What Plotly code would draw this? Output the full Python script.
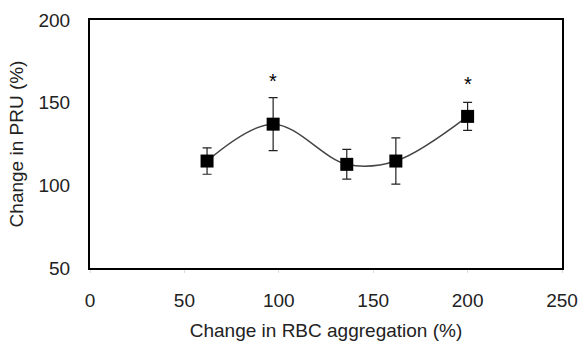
import plotly.graph_objects as go

x_vals = [62, 97, 136, 162, 200]
y_vals = [114.7, 137, 112.7, 114.7, 141.7]
err_vals = [8, 16, 9, 14, 8.5]
star_x = [97, 200]
star_y = [163, 161]
x_ticks = [0, 50, 100, 150, 200, 250]
y_ticks = [50, 100, 150, 200]

fig = go.Figure()
fig.add_trace(go.Scatter(
    x=x_vals, y=y_vals,
    mode="lines",
    line=dict(shape="spline", smoothing=1.0, color="#444444", width=1.5),
    hoverinfo="skip", showlegend=False,
))
fig.add_trace(go.Scatter(
    x=x_vals, y=y_vals,
    mode="markers",
    marker=dict(symbol="square", size=13, color="black"),
    error_y=dict(type="data", array=err_vals, visible=True, color="#222222", thickness=1.2, width=4.5),
    showlegend=False,
))
for sx, sy in zip(star_x, star_y):
    fig.add_annotation(x=sx, y=sy, text="*", showarrow=False,
                       font=dict(size=20, color="black", family="Liberation Sans, Arial"))

fig.update_layout(
    width=579, height=341,
    margin=dict(l=90, r=17, t=20, b=73),
    paper_bgcolor="white", plot_bgcolor="white",
    font=dict(family="Liberation Sans, Arial", size=19, color="#222222"),
    xaxis=dict(range=[0, 250], tickvals=x_ticks, showgrid=False, zeroline=False,
               showline=True, linecolor="black", linewidth=2, mirror=True,
               ticks="outside", ticklen=3, tickcolor="#dddddd", automargin=False,
               ticklabelstandoff=11, ticklabeloverflow="allow",
               title=dict(text="Change in RBC aggregation (%)", standoff=16, font=dict(size=19))),
    yaxis=dict(range=[50, 200], tickvals=y_ticks, showgrid=False, zeroline=False,
               showline=True, linecolor="black", linewidth=2, mirror=True,
               ticks="", ticklabelstandoff=14, automargin=False,
               title=dict(text="Change in PRU (%)", standoff=10, font=dict(size=19))),
)
fig.write_html("out.html", config={"displayModeBar": False},
               post_script="document.body.style.margin='0';document.body.style.overflow='hidden';")
